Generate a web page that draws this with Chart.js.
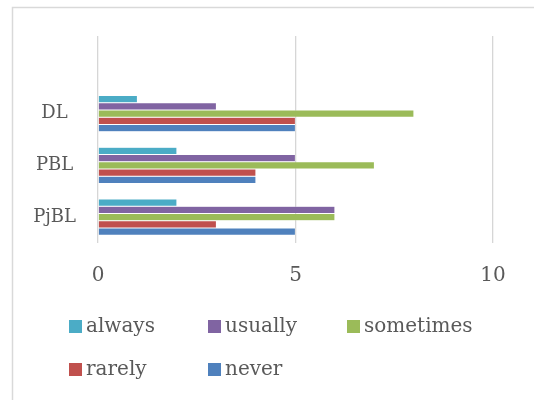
<!DOCTYPE html>
<html>
<head>
<meta charset="utf-8">
<script src="https://cdn.jsdelivr.net/npm/chart.js@4.4.1/dist/chart.umd.min.js"></script>
<style>
    html, body { margin: 0; padding: 0; background: #ffffff; }
    #wrap { position: relative; width: 534px; height: 400px; }
</style>
</head>
<body>
<div id="wrap"><canvas id="chart"></canvas></div>
<script>
// categories top to bottom (first row of the sheet is empty)
const categories = ['', 'DL', 'PBL', 'PjBL'];
const seriesNames = ['always', 'usually', 'sometimes', 'rarely', 'never'];
const always = [null, 1, 2, 2];
const usually = [null, 3, 5, 6];
const sometimes = [null, 8, 7, 6];
const rarely = [null, 5, 4, 3];
const never = [null, 5, 4, 5];
const xTicks = [0, 5, 10];
const colors = ['#4BACC6', '#8064A2', '#9BBB59', '#C0504D', '#4F81BD'];

const textColor = '#595959';
const serif = "'DejaVu Serif', serif";

// frame around the chart, like the Excel chart area border
const framePlugin = {
    id: 'frame',
    beforeDraw(chart) {
        const ctx = chart.ctx;
        ctx.save();
        ctx.strokeStyle = '#d9d9d9';
        ctx.lineWidth = 1.5;
        ctx.beginPath();
        ctx.moveTo(12.5, 400);
        ctx.lineTo(12.5, 7.5);
        ctx.lineTo(534, 7.5);
        ctx.stroke();
        ctx.restore();
    }
};

// legend with fixed columns, three per row
const legendPlugin = {
    id: 'gridLegend',
    afterDraw(chart) {
        const ctx = chart.ctx;
        const colX = [69, 208, 347];
        const rowY = [326.5, 369.5];
        ctx.save();
        ctx.font = '20px ' + serif;
        ctx.textBaseline = 'middle';
        ctx.textAlign = 'left';
        chart.data.datasets.forEach((ds, i) => {
            const x = colX[i % 3];
            const y = rowY[Math.floor(i / 3)];
            ctx.fillStyle = ds.backgroundColor;
            ctx.fillRect(x, y - 6.5, 13, 13);
            ctx.fillStyle = textColor;
            ctx.fillText(ds.label, x + 17, y);
        });
        ctx.restore();
    }
};

const values = [always, usually, sometimes, rarely, never];

new Chart(document.getElementById('chart'), {
    type: 'bar',
    data: {
        labels: categories,
        datasets: seriesNames.map((name, i) => ({
            label: name,
            data: values[i],
            backgroundColor: colors[i],
            borderColor: 'rgba(255,255,255,0.5)',
            borderWidth: 0.6,
            categoryPercentage: 0.7,
            barPercentage: 1
        }))
    },
    options: {
        indexAxis: 'y',
        responsive: true,
        maintainAspectRatio: false,
        animation: false,
        layout: {
            padding: { top: 36, right: 41, left: 14, bottom: 117 }
        },
        plugins: {
            legend: { display: false },
            tooltip: { enabled: false }
        },
        scales: {
            x: {
                min: 0,
                max: 10,
                afterBuildTicks(scale) {
                    scale.ticks = xTicks.map(v => ({ value: v }));
                },
                afterFit(scale) {
                    scale.height = 40;
                },
                grid: { color: '#d6d6d6', lineWidth: 1.3, drawTicks: false },
                border: { display: false },
                ticks: {
                    padding: 21,
                    color: textColor,
                    font: { family: serif, size: 20 }
                }
            },
            y: {
                afterFit(scale) {
                    scale.width = 84;
                },
                grid: { display: false },
                border: { display: false },
                ticks: {
                    crossAlign: 'center',
                    padding: 14,
                    color: textColor,
                    font: { family: serif, size: 18 }
                }
            }
        }
    },
    plugins: [framePlugin, legendPlugin]
});
</script>
</body>
</html>
